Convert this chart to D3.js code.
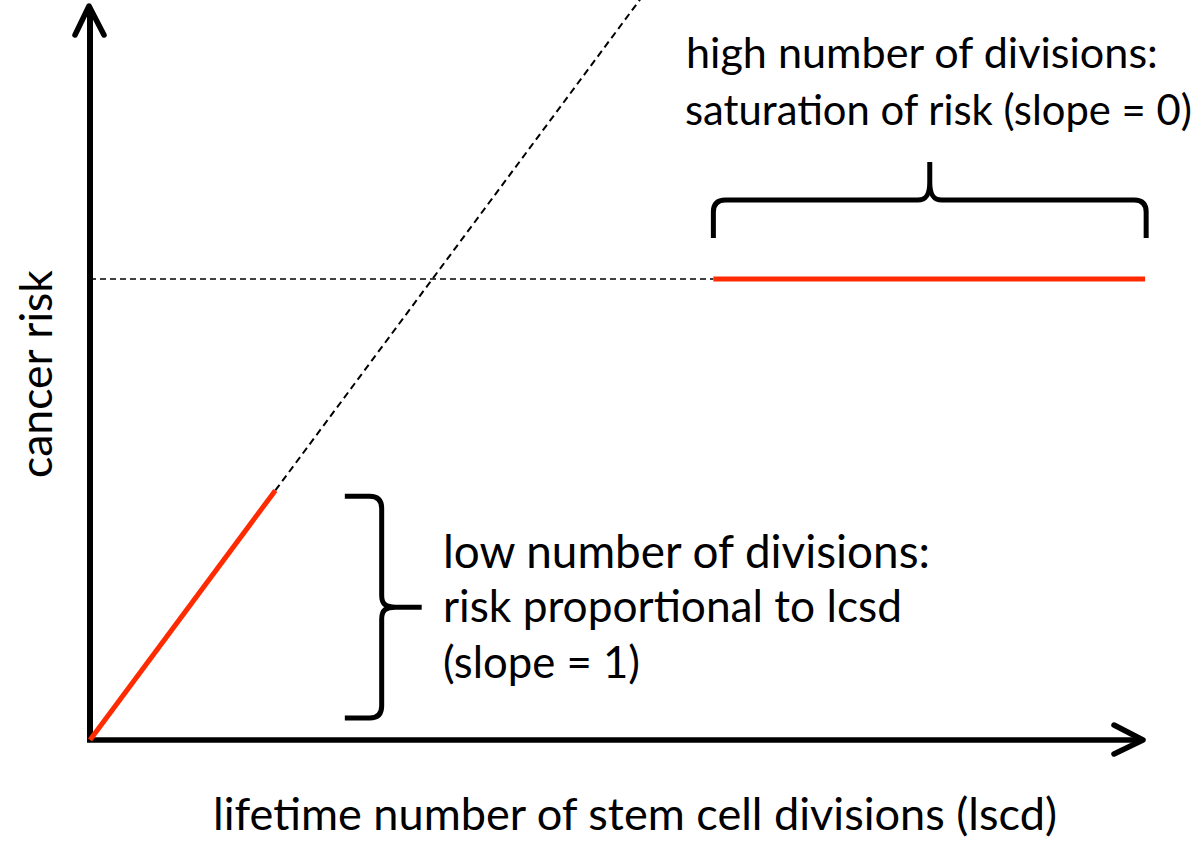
<!DOCTYPE html>
<html>
<head>
<meta charset="utf-8">
<script src="https://cdn.jsdelivr.net/npm/d3@7"></script>
<style>
  html, body { margin: 0; padding: 0; background: #fff; }
  svg { display: block; }
  text { font-family: Lato, "Open Sans", sans-serif; fill: #000; }
</style>
</head>
<body>
<svg id="chart" width="1204" height="841"></svg>
<script>
// ---- data (in abstract units: x = lifetime divisions, y = cancer risk) ----
const linearSegment = [[0, 0], [17.6, 34.0]];          // red, slope region
const linearExtension = [[17.6, 34.0], [52.4, 101.2]]; // dashed continuation
const saturationLevel = 62.8;
const saturationSegment = [[59.2, saturationLevel], [100.2, saturationLevel]];
const saturationGuide = [[0, saturationLevel], [59.2, saturationLevel]];
const xAxisLabel = "lifetime number of stem cell divisions (lscd)";
const yAxisLabel = "cancer risk";
const highLabel = ["high number of divisions:", "saturation of risk (slope = 0)"];
const lowLabel = ["low number of divisions:", "risk proportional to lcsd", "(slope = 1)"];

const svg = d3.select("#chart");
const x = d3.scaleLinear().domain([0, 100]).range([90, 1143]);
const y = d3.scaleLinear().domain([0, 100]).range([740, 6]);
const line = d3.line().x(d => x(d[0])).y(d => y(d[1]));
const red = "#ff2a00";

// dashed guides
svg.append("path").attr("d", line(linearExtension))
  .attr("fill", "none").attr("stroke", "#000").attr("stroke-width", 2)
  .attr("stroke-dasharray", "7,4.5");
svg.append("path").attr("d", line(saturationGuide))
  .attr("fill", "none").attr("stroke", "#000").attr("stroke-width", 1.5)
  .attr("stroke-dasharray", "6,4");

// axes with open arrowheads
const ax = svg.append("g").attr("fill", "none").attr("stroke", "#000")
  .attr("stroke-linecap", "round").attr("stroke-linejoin", "round");
ax.append("path").attr("d", `M${x(0)},${y(0)} L${x(0)},${y(100) + 2}`).attr("stroke-width", 6).attr("stroke-linecap", "butt");
ax.append("path").attr("d", `M${x(0) - 3},${y(0)} L${x(100) - 2},${y(0)}`).attr("stroke-width", 5.5).attr("stroke-linecap", "butt");
ax.append("path").attr("d", `M${x(0) - 15},${y(100) + 29} L${x(0) - 1},${y(100)} L${x(0) + 14},${y(100) + 29}`).attr("stroke-width", 5.5);
ax.append("path").attr("d", `M${x(100) - 29},${y(0) - 15} L${x(100)},${y(0)} L${x(100) - 29},${y(0) + 14}`).attr("stroke-width", 5.5);

// red segments
svg.append("path").attr("d", line(linearSegment))
  .attr("fill", "none").attr("stroke", red).attr("stroke-width", 5);
svg.append("path").attr("d", line(saturationSegment))
  .attr("fill", "none").attr("stroke", red).attr("stroke-width", 5);

// braces
const br = svg.append("g").attr("fill", "none").attr("stroke", "#000")
  .attr("stroke-width", 5).attr("stroke-linejoin", "round");
{
  const xL = x(59.2), xR = x(100.3), yEnd = 238, yBar = 200, xM = (xL + xR) / 2, yPeak = 162, r = 12;
  br.append("path").attr("d",
    `M${xL},${yEnd} L${xL},${yBar + r} Q${xL},${yBar} ${xL + r},${yBar} L${xM - 12},${yBar}` +
    ` C${xM - 3},${yBar} ${xM},${yBar - 6} ${xM},${yBar - 18} L${xM},${yPeak}` +
    ` M${xM},${yBar - 18} C${xM},${yBar - 6} ${xM + 3},${yBar} ${xM + 12},${yBar}` +
    ` L${xR - r},${yBar} Q${xR},${yBar} ${xR},${yBar + r} L${xR},${yEnd}`);
}
{
  const xE = x(24.2), xB = x(27.7), xT = x(31.5), yT = y(33.2), yB = y(3.0), yM = (yT + yB) / 2, r = 12;
  br.append("path").attr("d",
    `M${xE},${yT} L${xB - r},${yT} Q${xB},${yT} ${xB},${yT + r} L${xB},${yM - 12}` +
    ` C${xB},${yM - 3} ${xB + 4},${yM} ${xB + 14},${yM} L${xT},${yM}` +
    ` M${xB + 14},${yM} C${xB + 4},${yM} ${xB},${yM + 3} ${xB},${yM + 12}` +
    ` L${xB},${yB - r} Q${xB},${yB} ${xB - r},${yB} L${xE},${yB}`);
}

// text helper: fit to a target width
function fitText(sel, targetWidth) {
  const base = 40;
  sel.style("font-size", base + "px");
  const w = sel.node().getComputedTextLength();
  sel.style("font-size", (base * targetWidth / w).toFixed(2) + "px");
  return sel;
}

const t1 = svg.append("text").attr("x", 686).attr("y", 68).text(highLabel[0]);
fitText(t1, 472);
const t2 = svg.append("text").attr("x", 685).attr("y", 125).text(highLabel[1]);
fitText(t2, 507);

const l1 = svg.append("text").attr("x", 443).attr("y", 568).text(lowLabel[0]);
fitText(l1, 487);
const l2 = svg.append("text").attr("x", 443).attr("y", 622).text(lowLabel[1]);
fitText(l2, 459);
const l3 = svg.append("text").attr("x", 443).attr("y", 678).text(lowLabel[2]);
fitText(l3, 197);

const xl = svg.append("text").attr("x", 213).attr("y", 830).text(xAxisLabel);
fitText(xl, 844);

const yl = svg.append("text").attr("transform", "translate(52,478) rotate(-90)").text(yAxisLabel);
fitText(yl, 208);
</script>
</body>
</html>
